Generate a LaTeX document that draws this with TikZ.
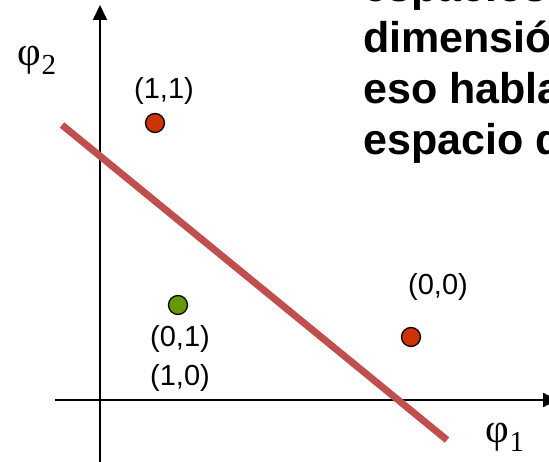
\documentclass[tikz,border=0pt]{standalone}
\usepackage{fontspec}
\setmainfont{Liberation Serif}
\setsansfont{Liberation Sans}
\usetikzlibrary{arrows.meta,positioning}
\definecolor{sepred}{HTML}{C0504D}
\definecolor{dotred}{HTML}{CC3300}
\definecolor{dotgreen}{HTML}{669900}

\begin{document}
\begin{tikzpicture}[x=1pt,y=-1pt,>={Triangle[length=15pt,width=14pt]},
 axis/.style={->,line width=2pt},
 sep/.style={line width=7pt,sepred},
 dot/.style={circle,draw=black,line width=1.3pt,minimum size=19pt,inner sep=0pt},
 lbl/.style={font=\sffamily\fontsize{29}{39}\selectfont,inner sep=0pt,align=center},
 phi/.style={font=\fontsize{41}{44}\selectfont,inner sep=0pt},
 note/.style={font=\sffamily\bfseries\fontsize{43}{51}\selectfont,inner sep=0pt,align=left}]
\useasboundingbox (0,0) rectangle (549,462);
\clip (0,0) rectangle (549,462);

% axes
\coordinate (ybot) at (100,462);
\coordinate (ytop) at (100,5);
\coordinate (xleft) at (55,400);
\coordinate (xright) at (558,400);
\draw[axis] (ybot) -- (ytop);
\draw[axis] (xleft) -- (xright);
\node[phi] (phi2) at (37,60) {φ\raisebox{-9pt}{\fontsize{29}{29}\selectfont 2}};
\node[phi] (phi1) at (505,437) {φ\raisebox{-9pt}{\fontsize{29}{29}\selectfont 1}};

% separating line
\coordinate (sepA) at (62,125);
\coordinate (sepB) at (447,440);
\draw[sep] (sepA) -- (sepB);

% points
\node[dot,fill=dotred] (p11) at (155,123) {};
\node[dot,fill=dotred] (p00) at (411,337) {};
\node[dot,fill=dotgreen] (p01) at (178,305) {};
\node[lbl,above=8pt of p11,xshift=9pt] (l11) {(1,1)};
\node[lbl,above=26pt of p00,xshift=27pt] (l00) {(0,0)};
\node[lbl,below=10pt of p01,xshift=2pt] (l01) {(0,1)\\(1,0)};

\node[note,anchor=base west] (txt) at (363,155) {espacios\\dimensió\\eso habla\\espacio d};
\end{tikzpicture}
\end{document}
